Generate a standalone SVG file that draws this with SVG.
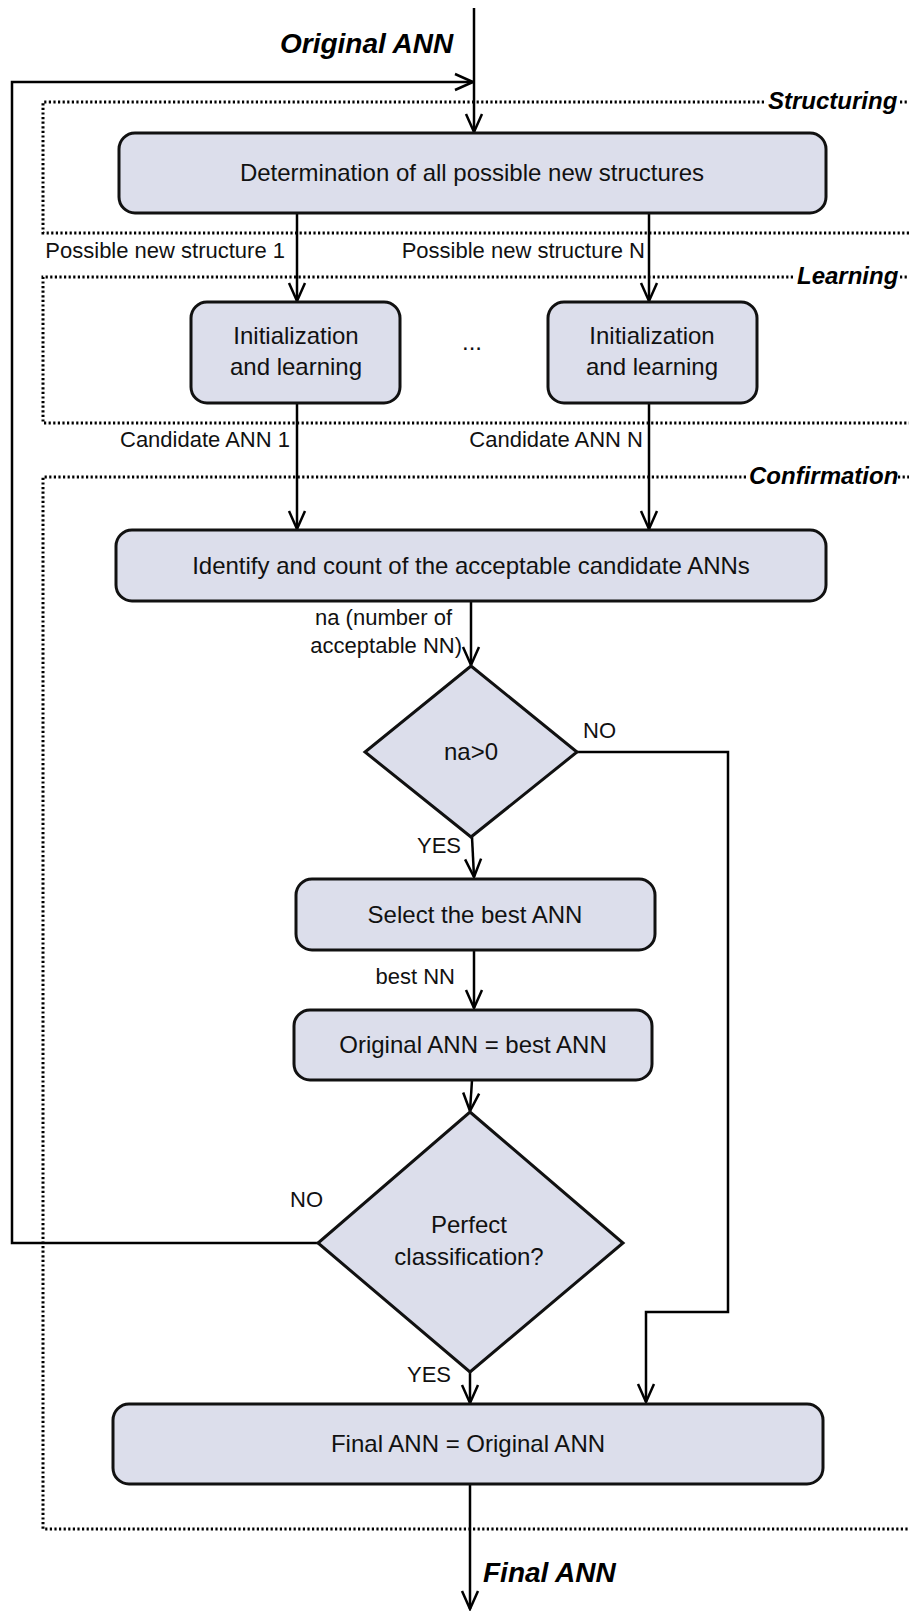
<svg xmlns="http://www.w3.org/2000/svg" width="909" height="1611" viewBox="0 0 909 1611">
<style>
.box{fill:#dcdeeb;stroke:#111;stroke-width:3}
.t{font-family:"Liberation Sans",Arial,sans-serif;font-size:24px;fill:#111;text-anchor:middle}
.lb{font-family:"Liberation Sans",Arial,sans-serif;font-size:22px;fill:#111}
.bi{font-family:"Liberation Sans",Arial,sans-serif;font-weight:bold;font-style:italic;fill:#000}
.e{fill:none;stroke:#000;stroke-width:2.5}
.dot{fill:none;stroke:#000;stroke-width:3;stroke-dasharray:2.2 2.4}
</style>
<defs>
<marker id="ah" markerUnits="userSpaceOnUse" markerWidth="22" markerHeight="20" viewBox="0 0 22 20" refX="20" refY="10" orient="auto">
<path d="M2,2 L20,10 L2,18" fill="none" stroke="#000" stroke-width="2.5"/>
</marker>
</defs>

<g id="regions">
<path class="dot" d="M764,102 H43 V233 H909"/>
<path class="dot" d="M900,102 H909"/>
<text class="bi" x="768" y="109" font-size="24">Structuring</text>
<path class="dot" d="M793,277 H43 V423 H909"/>
<path class="dot" d="M900,277 H909"/>
<text class="bi" x="797" y="284" font-size="24">Learning</text>
<path class="dot" d="M746,477 H43 V1529 H909"/>
<path class="dot" d="M898,477 H909"/>
<text class="bi" x="749" y="484" font-size="24">Confirmation</text>
</g>

<g id="connectors">
<path class="e" d="M474,8 V132" marker-end="url(#ah)"/>
<path class="e" d="M318,1243 H12 V82 H473" marker-end="url(#ah)"/>
<path class="e" d="M297,213 V301" marker-end="url(#ah)"/>
<path class="e" d="M649,213 V301" marker-end="url(#ah)"/>
<path class="e" d="M297,403 V529" marker-end="url(#ah)"/>
<path class="e" d="M649,403 V529" marker-end="url(#ah)"/>
<path class="e" d="M471,601 V665" marker-end="url(#ah)"/>
<path class="e" d="M577,752 H728 V1312 H646 V1402" marker-end="url(#ah)"/>
<path class="e" d="M472,837 L474,877" marker-end="url(#ah)"/>
<path class="e" d="M474,950 V1008" marker-end="url(#ah)"/>
<path class="e" d="M472,1080 L470,1111" marker-end="url(#ah)"/>
<path class="e" d="M470,1372 V1403" marker-end="url(#ah)"/>
<path class="e" d="M470,1484 V1609" marker-end="url(#ah)"/>
<text class="bi" x="280" y="53" font-size="28">Original ANN</text>
<text class="bi" x="483" y="1582" font-size="28">Final ANN</text>
<text class="lb" x="285" y="258" text-anchor="end">Possible new structure 1</text>
<text class="lb" x="645" y="258" text-anchor="end">Possible new structure N</text>
<text class="lb" x="290" y="447" text-anchor="end">Candidate ANN 1</text>
<text class="lb" x="643" y="447" text-anchor="end">Candidate ANN N</text>
<text class="lb" x="452" y="625" text-anchor="end">na (number of</text>
<text class="lb" x="462" y="653" text-anchor="end">acceptable NN)</text>
<text class="lb" x="583" y="738">NO</text>
<text class="lb" x="461" y="853" text-anchor="end">YES</text>
<text class="lb" x="455" y="984" text-anchor="end">best NN</text>
<text class="lb" x="290" y="1207">NO</text>
<text class="lb" x="451" y="1382" text-anchor="end">YES</text>
</g>

<g id="n-determination">
<rect class="box" x="119" y="133" width="707" height="80" rx="16"/>
<text class="t" x="472" y="181">Determination of all possible new structures</text>
</g>
<g id="n-init1">
<rect class="box" x="191" y="302" width="209" height="101" rx="16"/>
<text class="t" x="296" y="344">Initialization</text>
<text class="t" x="296" y="375">and learning</text>
</g>
<g id="n-ellipsis">
<text class="t" x="472" y="350">...</text>
</g>
<g id="n-initN">
<rect class="box" x="548" y="302" width="209" height="101" rx="16"/>
<text class="t" x="652" y="344">Initialization</text>
<text class="t" x="652" y="375">and learning</text>
</g>
<g id="n-identify">
<rect class="box" x="116" y="530" width="710" height="71" rx="16"/>
<text class="t" x="471" y="574">Identify and count of the acceptable candidate ANNs</text>
</g>
<g id="n-na">
<polygon class="box" points="471,666 577,752 471,837 365,752"/>
<text class="t" x="471" y="760">na&gt;0</text>
</g>
<g id="n-select">
<rect class="box" x="296" y="879" width="359" height="71" rx="16"/>
<text class="t" x="475" y="923">Select the best ANN</text>
</g>
<g id="n-assign">
<rect class="box" x="294" y="1010" width="358" height="70" rx="16"/>
<text class="t" x="473" y="1053">Original ANN = best ANN</text>
</g>
<g id="n-perfect">
<polygon class="box" points="470,1112 623,1243 470,1372 318,1243"/>
<text class="t" x="469" y="1233">Perfect</text>
<text class="t" x="469" y="1265">classification?</text>
</g>
<g id="n-final">
<rect class="box" x="113" y="1404" width="710" height="80" rx="16"/>
<text class="t" x="468" y="1452">Final ANN = Original ANN</text>
</g>
</svg>
